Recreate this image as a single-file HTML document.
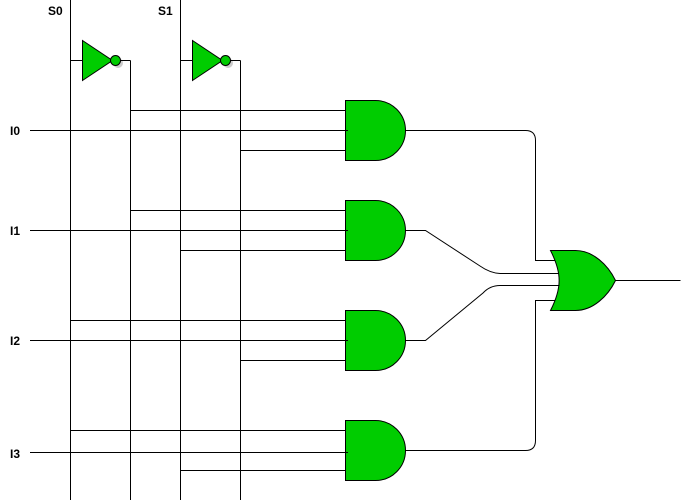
<!DOCTYPE html>
<html>
<head>
<meta charset="utf-8">
<style>
html,body{margin:0;padding:0;background:#fff;width:682px;height:502px;overflow:hidden}
svg{display:block}
text{font-family:"Liberation Sans",sans-serif;font-size:12px;font-weight:bold;fill:#000}
</style>
</head>
<body>
<svg width="682" height="502" viewBox="0 0 682 502" xmlns="http://www.w3.org/2000/svg">
<g fill="none" stroke="#000" stroke-width="1">
<path d="M70.5 0V500M180.5 0V500M130.5 60.5V500M240.5 60.5V500"/>
<path d="M70.5 60.5H82.5M120.5 60.5H130.5M180.5 60.5H192.5M230.5 60.5H240.5"/>
<path d="M130.5 110.5H345.5M30 130.5H345.5M240.5 150.5H345.5"/>
<path d="M130.5 210.5H345.5M30 230.5H345.5M180.5 250.5H345.5"/>
<path d="M70.5 320.5H345.5M30 340.5H345.5M240.5 360.5H345.5"/>
<path d="M70.5 430.5H345.5M30 452.5H345.5M180.5 470.5H345.5"/>
<path d="M405.5 130.5H525.5Q535.5 130.5 535.5 140.5V260.5H556"/>
<path d="M405.5 450.5H525.5Q535.5 450.5 535.5 440.5V300.5H556"/>
<path d="M405.5 230.5H425.5L480 266Q490 273 500 273.5H559"/>
<path d="M405.5 340.5H425.5L483 293Q490 285.5 500 285.5H559"/>
<path d="M615.5 280.5H680.5"/>
</g>
<!-- inverter shadows -->
<g fill="#000" opacity="0.2">
<circle cx="118" cy="63" r="5"/>
<circle cx="228" cy="63" r="5"/>
</g>
<!-- inverters -->
<g fill="#00cc00" stroke="#000" stroke-width="1">
<path d="M82.5 40.5L112.5 60.5L82.5 80.5Z"/>
<circle cx="115.5" cy="60.5" r="5"/>
<path d="M192.5 40.5L222.5 60.5L192.5 80.5Z"/>
<circle cx="225.5" cy="60.5" r="5"/>
</g>
<!-- AND gates -->
<g fill="#00cc00" stroke="#000" stroke-width="1">
<path d="M345.5 100.5H375.5A30 30 0 0 1 375.5 160.5H345.5Z"/>
<path d="M345.5 200.5H375.5A30 30 0 0 1 375.5 260.5H345.5Z"/>
<path d="M345.5 310.5H375.5A30 30 0 0 1 375.5 370.5H345.5Z"/>
<path d="M345.5 420.5H375.5A30 30 0 0 1 375.5 480.5H345.5Z"/>
<!-- OR gate -->
<path d="M550.5 250.5H575.5C593 250.5 608 265 615.5 280.5C608 296 593 310.5 575.5 310.5H550.5C562 288 562 273 550.5 250.5Z"/>
</g>
<!-- short input stubs drawn over gate edge -->
<path d="M345 130.5H348M345 230.5H348M345 340.5H348M345 452.5H348M557 273.5H559M557 285.5H559.5" stroke="#000" stroke-width="1" fill="none"/>
<text x="48" y="15">S0</text>
<text x="158" y="15">S1</text>
<text x="10" y="135">I0</text>
<text x="10" y="235">I1</text>
<text x="10" y="345">I2</text>
<text x="10" y="458">I3</text>
</svg>
</body>
</html>
